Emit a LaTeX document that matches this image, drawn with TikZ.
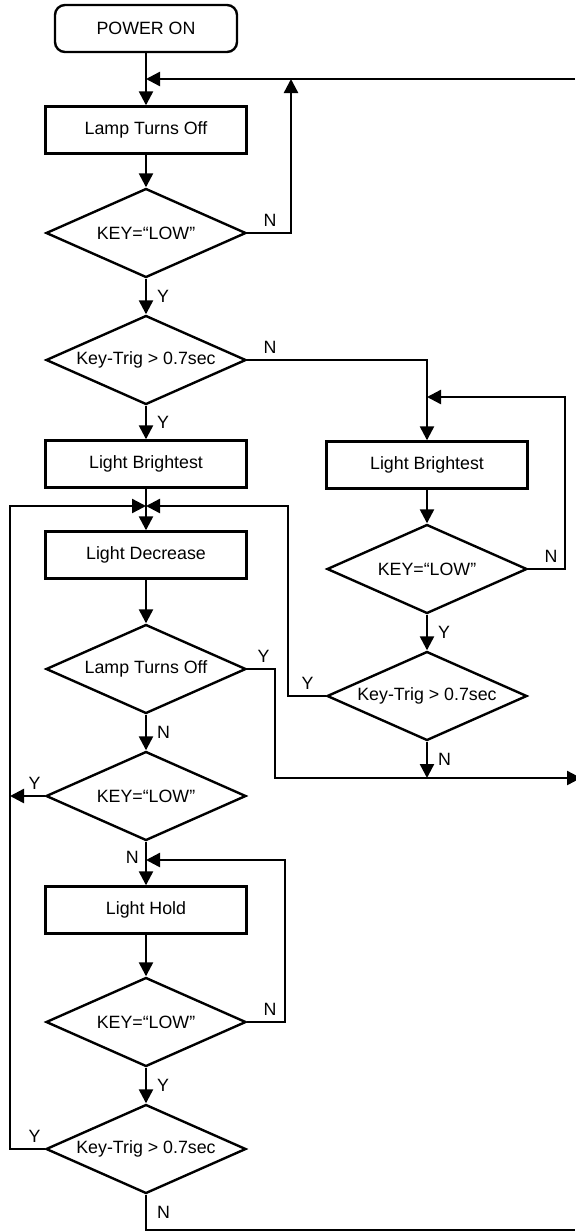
\documentclass[tikz,border=0pt]{standalone}
\usepackage{fontspec}
\setmainfont{Liberation Sans}
\usetikzlibrary{arrows.meta,positioning,shapes.geometric}

\begin{document}
\begin{tikzpicture}[
    x=0.5pt,y=-0.5pt,
    every node/.style={font=\fontsize{8.9}{10}\selectfont},
    block/.style={draw,line width=1.2pt,minimum width=100.5pt,minimum height=23.5pt,inner sep=0pt},
    startbox/.style={block,rounded corners=5pt,minimum width=91pt},
    decision/.style={draw,line width=1.2pt,diamond,aspect=2.2,inner sep=0pt,
      minimum width=100pt,minimum height=44.5pt},
    flow/.style={line width=1.2pt,-{Triangle[length=7pt,width=7pt]}},
    wire/.style={line width=1.2pt},
    lbl/.style={inner sep=2pt}
  ]
    \useasboundingbox (0,0) rectangle (575,1232);

    % left column
    \node[startbox] (power) at (146,28.5) {POWER ON};
    \node[block] (lampoff) at (146,130) {Lamp Turns Off};
    \node[decision] (keyA) at (146,233) {KEY=“LOW”};
    \node[decision] (trigA) at (146,360) {Key-Trig > 0.7sec};
    \node[block] (brightL) at (146,464) {Light Brightest};
    \node[block] (decr) at (146,555) {Light Decrease};
    \node[decision] (lampchk) at (146,669) {Lamp Turns Off};
    \node[decision] (keyB) at (146,796) {KEY=“LOW”};
    \node[block] (hold) at (146,910) {Light Hold};
    \node[decision] (keyC) at (146,1022) {KEY=“LOW”};
    \node[decision] (trigC) at (146,1149) {Key-Trig > 0.7sec};

    % right column
    \node[block] (brightR) at (427,465) {Light Brightest};
    \node[decision] (keyR) at (427,569) {KEY=“LOW”};
    \node[decision] (trigR) at (427,696) {Key-Trig > 0.7sec};

    % joins and exits
    \coordinate (joinTop) at (146,79);
    \coordinate (edgeTop) at (575,79);
    \coordinate (railA) at (291,79);
    \coordinate (joinB) at (146,506);
    \coordinate (railL) at (10,506);
    \coordinate (joinR) at (427,397);
    \coordinate (joinH) at (146,860);
    \coordinate (exitMid) at (581,778);
    \coordinate (exitBot) at (575,1230);

    \draw[flow] (power) -- (lampoff);
    \draw[flow] (edgeTop) -- (joinTop);
    \draw[flow] (lampoff) -- (keyA);
    \draw[flow] (keyA.east) -| (railA);
    \node[lbl,above right=1pt and 6pt of keyA.east] (nA) {N};
    \draw[flow] (keyA) -- node[lbl,right=3pt] (yA) {Y} (trigA);
    \draw[flow] (trigA.east) -| (brightR.north);
    \node[lbl,above right=1pt and 6pt of trigA.east] (nT) {N};
    \draw[flow] (trigA) -- node[lbl,right=3pt] (yT) {Y} (brightL);
    \draw[wire] (brightL) -- (joinB);
    \draw[flow] (joinB) -- (decr);
    \draw[flow] (decr) -- (lampchk);
    \draw[flow] (lampchk.east) -- ++(28,0) |- (exitMid);
    \node[lbl,above right=1pt and 3pt of lampchk.east] (yL) {Y};
    \draw[flow] (lampchk) -- node[lbl,right=3pt] (nL) {N} (keyB);
    \draw[flow] (keyB.west) -- (keyB.west -| railL);
    \node[lbl,above left=1pt and 0pt of keyB.west] (yB) {Y};
    \draw[flow] (keyB) -- node[lbl,left=1pt,pos=0.36] (nB) {N} (hold);
    \draw[flow] (hold) -- (keyC);
    \draw[flow] (keyC.east) -- ++(38,0) |- (joinH);
    \node[lbl,above right=1pt and 6pt of keyC.east] (nC) {N};
    \draw[flow] (keyC) -- node[lbl,right=3pt] (yC) {Y} (trigC);
    \draw[flow] (trigC.west) -| (railL) -- (joinB);
    \node[lbl,above left=1pt and 0pt of trigC.west] (yTC) {Y};
    \draw[wire] (trigC.south) |- node[lbl,right=3pt,pos=0.25] (nTC) {N} (exitBot);

    % right loop
    \draw[flow] (brightR) -- (keyR);
    \draw[flow] (keyR.east) -- ++(37,0) |- (joinR);
    \node[lbl,above right=1pt and 6pt of keyR.east] (nR) {N};
    \draw[flow] (keyR) -- node[lbl,right=3pt] (yR) {Y} (trigR);
    \draw[flow] (trigR.west) -- ++(-38,0) |- (joinB);
    \node[lbl,above left=1pt and 4pt of trigR.west] (yRT) {Y};
    \draw[flow] (trigR.south) -- node[lbl,right=3pt] (nRT) {N} (trigR.south |- exitMid);
  \end{tikzpicture}
\end{document}
